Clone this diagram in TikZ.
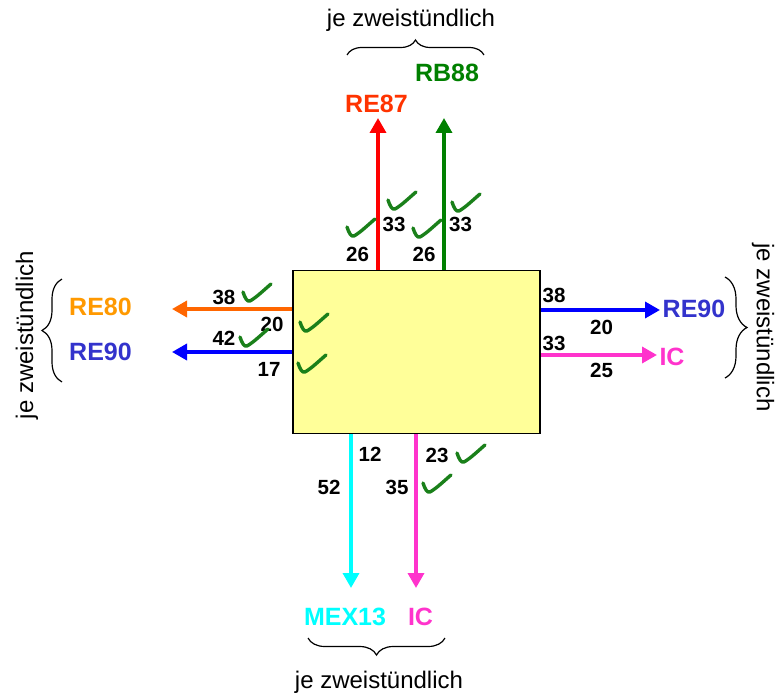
\documentclass[tikz,border=0pt]{standalone}
\usepackage{fontspec}
\setmainfont{Liberation Sans}
\usetikzlibrary{arrows.meta,decorations.pathreplacing}

\definecolor{boxyellow}{HTML}{FFFF99}
\definecolor{checkgreen}{HTML}{1A801A}
\definecolor{linegreen}{HTML}{008000}
\definecolor{redlabel}{HTML}{FF3300}
\definecolor{orangeline}{HTML}{FF6600}
\definecolor{orangelabel}{HTML}{FF9900}
\definecolor{bluelabel}{HTML}{3333CC}
\definecolor{icpink}{HTML}{FF33CC}
\definecolor{mexcyan}{HTML}{00FFFF}

\tikzset{
  train/.style={line width=3.5pt,-{Triangle[length=15pt,width=16pt]}},
  trainlabel/.style={font=\fontsize{25}{30}\selectfont\bfseries,inner sep=0pt,anchor=base},
  num/.style={font=\fontsize{20.5}{24}\selectfont\bfseries,inner sep=0pt},
  note/.style={font=\fontsize{24}{28}\selectfont,inner sep=0pt},
  bracket/.style={decorate,decoration={brace,amplitude=#1},line width=1.2pt},
  okmark/.pic={\draw[checkgreen,line width=3.4pt,line cap=round,line join=round]
    (0,0) .. controls (2,6) and (4,10) .. (7,9) .. controls (14,5) and (22,-3) .. (28,-8);}
}

\begin{document}
\begin{tikzpicture}[x=1pt,y=-1pt]
    \useasboundingbox (0,0) rectangle (779,698);

    \node[draw,fill=boxyellow,line width=1.5pt,minimum width=247pt,minimum height=163pt,inner sep=0pt] (box) at (416.5,352) {};

    \coordinate (tipRE87) at (378,118);
    \coordinate (tipRB88) at (444,118);
    \coordinate (tipRE80) at (172,309);
    \coordinate (tipRE90l) at (172,352);
    \coordinate (tipRE90r) at (660,310);
    \coordinate (tipICr) at (657,355);
    \coordinate (tipMEX13) at (351,588);
    \coordinate (tipICb) at (416,588);

    \draw[train,red] (box.north -| tipRE87) -- (tipRE87);
    \draw[train,linegreen] (box.north -| tipRB88) -- (tipRB88);
    \draw[train,orangeline] (box.west |- tipRE80) -- (tipRE80);
    \draw[train,blue] (box.west |- tipRE90l) -- (tipRE90l);
    \draw[train,blue] (box.east |- tipRE90r) -- (tipRE90r);
    \draw[train,icpink] (box.east |- tipICr) -- (tipICr);
    \draw[train,mexcyan] (box.south -| tipMEX13) -- (tipMEX13);
    \draw[train,icpink] (box.south -| tipICb) -- (tipICb);

    \node[trainlabel,text=redlabel] (re87) at (376.5,113) {RE87};
    \node[trainlabel,text=linegreen] (rb88) at (447,82) {RB88};
    \node[trainlabel,text=orangelabel] (re80) at (100.5,315) {RE80};
    \node[trainlabel,text=bluelabel] (re90l) at (100.5,360) {RE90};
    \node[trainlabel,text=bluelabel] (re90r) at (694,317) {RE90};
    \node[trainlabel,text=icpink] (icr) at (672,365) {IC};
    \node[trainlabel,text=mexcyan] (mex13) at (345,625) {MEX13};
    \node[trainlabel,text=icpink] (icb) at (420.5,625) {IC};

    \node[num] (nA1) at (357.5,254) {26};
    \node[num] (nA2) at (394,224) {33};
    \node[num] (nB1) at (424,254) {26};
    \node[num] (nB2) at (460.5,224) {33};
    \node[num] (nC1) at (224,297) {38};
    \node[num] (nC2) at (272,324) {20};
    \node[num] (nD1) at (224,338) {42};
    \node[num] (nD2) at (269,369) {17};
    \node[num] (nE1) at (554,295.5) {38};
    \node[num] (nE2) at (601.5,327) {20};
    \node[num] (nF1) at (554,343.5) {33};
    \node[num] (nF2) at (601.5,370) {25};
    \node[num] (nG1) at (370,454) {12};
    \node[num] (nG2) at (329,487.5) {52};
    \node[num] (nH1) at (437,455.5) {23};
    \node[num] (nH2) at (397,487.5) {35};

    \pic at (347,227) {okmark};
    \pic at (388,200) {okmark};
    \pic at (413,228) {okmark};
    \pic at (452,202) {okmark};
    \pic at (243,292) {okmark};
    \pic at (300,322) {okmark};
    \pic at (240,337) {okmark};
    \pic at (298,363) {okmark};
    \pic at (457,453) {okmark};
    \pic at (423,483) {okmark};

    \node[note,anchor=base] (noteT) at (411,27) {je zweistündlich};
    \node[note,anchor=base] (noteB) at (379,688) {je zweistündlich};
    \node[note,rotate=90] (noteL) at (27,335) {je zweistündlich};
    \node[note,rotate=-90] (noteR) at (763,327.5) {je zweistündlich};

    \draw[bracket=15pt] (347,55) -- (484,55);
    \draw[bracket=20pt] (62,382) -- (62,279);
    \draw[bracket=22pt] (725,277) -- (725,378);
    \draw[bracket=17pt] (445,638) -- (308,638);
\end{tikzpicture}
\end{document}
